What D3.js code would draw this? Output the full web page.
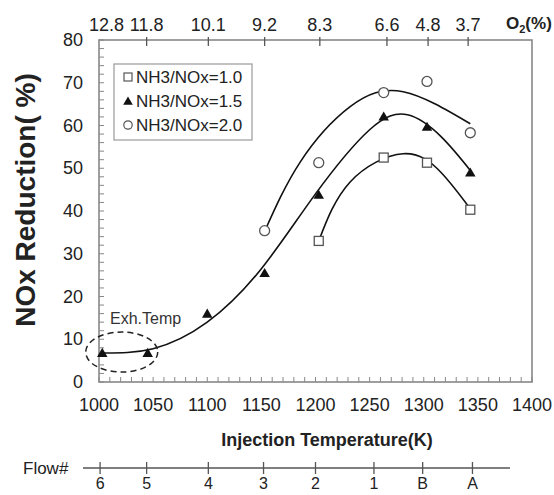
<!DOCTYPE html>
<html>
<head>
<meta charset="utf-8">
<script src="https://cdn.jsdelivr.net/npm/d3@7"></script>
<style>
  body { margin: 0; background: #fff; }
  svg text { font-family: "Liberation Sans", Arial, sans-serif; fill: #222; }
</style>
</head>
<body>
<svg id="chart" width="554" height="495"></svg>
<script>
// measured points
let temps = [1003, 1045, 1100, 1153, 1203, 1263, 1303, 1343]
let ratio10 = [null, null, null, null, 33, 52.5, 51.3, 40.3]
let ratio15 = [6.8, 6.8, 16, 25.5, 43.8, 62.1, 59.7, 49]
let ratio20 = [null, null, null, 35.4, 51.3, 67.7, 70.3, 58.3]

// trend lines
let fit10T = [1203, 1232, 1281, 1316, 1343]
let fit10V = [33, 46.8, 53.4, 49, 40.5]
let fit15T = [1003, 1050, 1100, 1150, 1200, 1250, 1285, 1316, 1343]
let fit15V = [6.8, 7.8, 14, 26.5, 44, 59, 62.5, 57.4, 49.5]
let fit20T = [1153, 1186, 1232, 1281, 1343]
let fit20V = [35.2, 51.5, 64.4, 67.9, 60.4]

// secondary axes
let o2Labels = ["12.8", "11.8", "10.1", "9.2", "8.3", "6.6", "4.8", "3.7"]
let o2Temps = [1007, 1044, 1101, 1153, 1204, 1266, 1304, 1341]
let flowLabels = ["6", "5", "4", "3", "2", "1", "B", "A"]
let flowTemps = [1001, 1044, 1101, 1152, 1200, 1254, 1299, 1345]

let xTicks = [1000, 1050, 1100, 1150, 1200, 1250, 1300, 1350, 1400]
let yTicks = [0, 10, 20, 30, 40, 50, 60, 70, 80]

let svg = d3.select("#chart")
let pLeft = 99, pRight = 532, pTop = 40, pBottom = 382

let x = d3.scaleLinear().domain([1000, 1400]).range([pLeft, pRight])
let y = d3.scaleLinear().domain([0, 80]).range([pBottom, pTop])

let frameColor = "#888"

// minor ticks inside the frame
svg.append("g")
  .selectAll("line")
  .data(d3.range(0, 81, 2))
  .join("line")
  .attr("x1", pLeft).attr("x2", pLeft + 5)
  .attr("y1", d => y(d)).attr("y2", d => y(d))
  .attr("stroke", frameColor).attr("stroke-width", 1)

svg.append("g")
  .selectAll("line")
  .data(d3.range(1000, 1401, 10))
  .join("line")
  .attr("x1", d => x(d)).attr("x2", d => x(d))
  .attr("y1", pBottom).attr("y2", pBottom - 5)
  .attr("stroke", frameColor).attr("stroke-width", 1)

// frame
svg.append("rect")
  .attr("x", pLeft).attr("y", pTop)
  .attr("width", pRight - pLeft).attr("height", pBottom - pTop)
  .attr("fill", "none")
  .attr("stroke", frameColor)
  .attr("stroke-width", 1.6)

// y tick labels
svg.append("g")
  .selectAll("text")
  .data(yTicks)
  .join("text")
  .attr("x", pLeft - 16)
  .attr("y", d => y(d) + 6)
  .attr("text-anchor", "end")
  .style("font-size", "18px")
  .text(d => d)

// x tick labels
svg.append("g")
  .selectAll("text")
  .data(xTicks)
  .join("text")
  .attr("x", d => x(d))
  .attr("y", pBottom + 29)
  .attr("text-anchor", "middle")
  .style("font-size", "18px")
  .text(d => d)

// top O2 axis
svg.append("g")
  .selectAll("line")
  .data(o2Temps.slice(1))
  .join("line")
  .attr("x1", d => x(d)).attr("x2", d => x(d))
  .attr("y1", pTop - 3).attr("y2", pTop + 6)
  .attr("stroke", "#555").attr("stroke-width", 1.3)

svg.append("g")
  .selectAll("text")
  .data(o2Labels)
  .join("text")
  .attr("x", (d, i) => x(o2Temps[i]))
  .attr("y", pTop - 9)
  .attr("text-anchor", "middle")
  .style("font-size", "18px")
  .text(d => d)

let o2 = svg.append("text")
  .attr("x", 506).attr("y", pTop - 11)
  .style("font-size", "17px").style("font-weight", "bold")
o2.append("tspan").text("O")
o2.append("tspan").attr("dy", 4).style("font-size", "11px").text("2")
o2.append("tspan").attr("dy", -4).text("(%)")

// axis titles
svg.append("text")
  .attr("transform", "translate(35,200) rotate(-90)")
  .attr("text-anchor", "middle")
  .style("font-size", "28px").style("font-weight", "bold")
  .text("NOx Reduction( %)")

svg.append("text")
  .attr("x", 327).attr("y", 446)
  .attr("text-anchor", "middle")
  .style("font-size", "18px").style("font-weight", "bold")
  .text("Injection Temperature(K)")

// flow# axis
let flowY = 468
svg.append("line")
  .attr("x1", 83).attr("x2", 510)
  .attr("y1", flowY).attr("y2", flowY)
  .attr("stroke", "#555").attr("stroke-width", 1.3)

svg.append("g")
  .selectAll("line")
  .data(flowTemps)
  .join("line")
  .attr("x1", d => x(d)).attr("x2", d => x(d))
  .attr("y1", flowY - 6).attr("y2", flowY + 6)
  .attr("stroke", "#555").attr("stroke-width", 1.3)

svg.append("g")
  .selectAll("text")
  .data(flowLabels)
  .join("text")
  .attr("x", (d, i) => x(flowTemps[i]))
  .attr("y", 489)
  .attr("text-anchor", "middle")
  .style("font-size", "16px")
  .text(d => d)

svg.append("text")
  .attr("x", 23).attr("y", flowY + 6)
  .style("font-size", "17px")
  .text("Flow#")

// trend lines
let line = d3.line()
  .x(d => x(d[0]))
  .y(d => y(d[1]))
  .curve(d3.curveNatural)

let fits = [[fit10T, fit10V], [fit15T, fit15V], [fit20T, fit20V]]
svg.append("g")
  .selectAll("path")
  .data(fits)
  .join("path")
  .attr("d", d => line(d[0].map((t, i) => [t, d[1][i]])))
  .attr("fill", "none")
  .attr("stroke", "#111")
  .attr("stroke-width", 1.6)

// markers
let pts = (vals) => temps.map((t, i) => [t, vals[i]]).filter(d => d[1] !== null)

svg.append("g")
  .selectAll("rect")
  .data(pts(ratio10))
  .join("rect")
  .attr("x", d => x(d[0]) - 4.5).attr("y", d => y(d[1]) - 4.5)
  .attr("width", 9).attr("height", 9)
  .attr("fill", "#fff").attr("stroke", "#555").attr("stroke-width", 1.3)

let tri = d3.symbol().type(d3.symbolTriangle).size(48)
svg.append("g")
  .selectAll("path")
  .data(pts(ratio15))
  .join("path")
  .attr("d", tri)
  .attr("transform", d => "translate(" + x(d[0]) + "," + (y(d[1]) + 1) + ")")
  .attr("fill", "#111")

svg.append("g")
  .selectAll("circle")
  .data(pts(ratio20))
  .join("circle")
  .attr("cx", d => x(d[0])).attr("cy", d => y(d[1]))
  .attr("r", 5)
  .attr("fill", "#fff").attr("stroke", "#555").attr("stroke-width", 1.3)

// legend
let legend = svg.append("g")
legend.append("rect")
  .attr("x", 114).attr("y", 64)
  .attr("width", 138).attr("height", 76)
  .attr("fill", "#fff").attr("stroke", "#999").attr("stroke-width", 1.2)

let legendNames = ["NH3/NOx=1.0", "NH3/NOx=1.5", "NH3/NOx=2.0"]
legendNames.forEach((name, i) => {
  let ly = 77 + i * 24
  if (i == 0) {
    legend.append("rect").attr("x", 124).attr("y", ly - 4).attr("width", 8).attr("height", 8)
      .attr("fill", "#fff").attr("stroke", "#555").attr("stroke-width", 1.2)
  } else if (i == 1) {
    legend.append("path").attr("d", d3.symbol().type(d3.symbolTriangle).size(40))
      .attr("transform", "translate(128," + (ly + 1) + ")").attr("fill", "#111")
  } else {
    legend.append("circle").attr("cx", 128).attr("cy", ly).attr("r", 4.2)
      .attr("fill", "#fff").attr("stroke", "#555").attr("stroke-width", 1.2)
  }
  legend.append("text")
    .attr("x", 136).attr("y", ly + 6)
    .style("font-size", "17px")
    .text(name)
})

// exhaust temperature annotation
svg.append("ellipse")
  .attr("cx", x(1021)).attr("cy", y(7))
  .attr("rx", 36).attr("ry", 20)
  .attr("fill", "none")
  .attr("stroke", "#222")
  .attr("stroke-width", 1.5)
  .attr("stroke-dasharray", "6,4")

svg.append("text")
  .attr("x", 110).attr("y", 324)
  .style("font-size", "16px")
  .style("fill", "#333")
  .text("Exh.Temp")
</script>
</body>
</html>
